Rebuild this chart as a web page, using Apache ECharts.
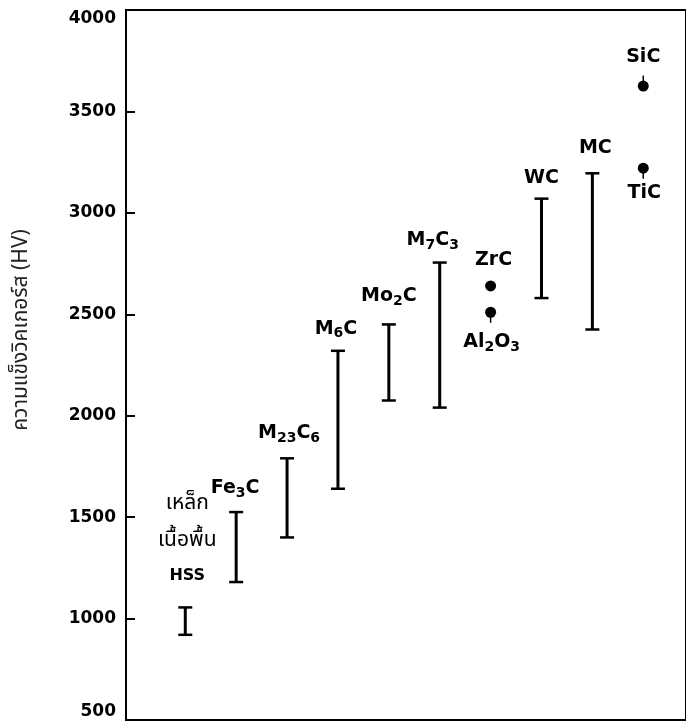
<!DOCTYPE html>
<html>
<head>
<meta charset="utf-8">
<script src="https://cdn.jsdelivr.net/npm/echarts@6/dist/echarts.min.js"></script>
<style>
  html, body { margin: 0; padding: 0; background: #fff; }
  #chart { width: 686px; height: 724px; }
</style>
</head>
<body>
<div id="chart"></div>
<script>
// Columns along the horizontal direction (one slot per material group)
const columns = ['HSS', 'Fe3C', 'M23C6', 'M6C', 'Mo2C', 'M7C3', 'ZrC/Al2O3', 'WC', 'MC', 'TiC/SiC'];

// Hardness ranges (HV) shown as I-bars
const rangeNames   = ['HSS', 'Fe3C', 'M23C6', 'M6C', 'Mo2C', 'M7C3', 'WC', 'MC'];
const rangeColumns = ['HSS', 'Fe3C', 'M23C6', 'M6C', 'Mo2C', 'M7C3', 'WC', 'MC'];
const rangeLow     = [920, 1180, 1400, 1640, 2075, 2040, 2580, 2425];
const rangeHigh    = [1055, 1525, 1790, 2320, 2450, 2755, 3070, 3195];

// Single hardness values (HV) shown as dots
const pointNames   = ['ZrC', 'Al2O3', 'TiC', 'SiC'];
const pointColumns = ['ZrC/Al2O3', 'ZrC/Al2O3', 'TiC/SiC', 'TiC/SiC'];
const pointValues  = [2640, 2510, 3220, 3625];

// Vertical axis
const yMin = 500, yMax = 4000, yStep = 500;
const yTitle = 'ความแข็งวิคเกอร์ส (HV)';
const matrixLabel = ['เหล็ก', 'เนื้อพื้น', 'HSS'];

// ---- label placement relative to the mark (pixels) ----
const labelOffset = {
  'HSS':   { dx: 2,  dy: -17 },
  'Fe3C':  { dx: -1, dy: -24 },
  'M23C6': { dx: 2,  dy: -25 },
  'M6C':   { dx: -2, dy: -22 },
  'Mo2C':  { dx: 0,  dy: -28 },
  'M7C3':  { dx: -7, dy: -22 },
  'WC':    { dx: 0,  dy: -21 },
  'MC':    { dx: 3,  dy: -25 },
  'ZrC':   { dx: 3,  dy: -26 },
  'Al2O3': { dx: 1,  dy: 30 },
  'TiC':   { dx: 1,  dy: 25 },
  'SiC':   { dx: 0,  dy: -29 }
};
// small pin stem drawn on some dots: +1 below, -1 above
const stemDir = { 'Al2O3': 1, 'TiC': 1, 'SiC': -1 };

const FONT = '"DejaVu Sans", sans-serif';
const THAI = '"Noto Sans Thai", "Noto Sans", "DejaVu Sans", sans-serif';

const rich = {
  n: { fontFamily: FONT, fontWeight: 'bold', fontSize: 19, lineHeight: 24, color: '#000' },
  s: { fontFamily: FONT, fontWeight: 'bold', fontSize: 14, lineHeight: 14, verticalAlign: 'bottom', color: '#000' },
  t: { fontFamily: THAI, fontSize: 21, lineHeight: 37, color: '#000' },
  h: { fontFamily: FONT, fontWeight: 'bold', fontSize: 16, lineHeight: 30, color: '#000' }
};

// Turn "M23C6" into rich text with subscript digits
function chemical(name) {
  return name.split(/(\d+)/).filter(p => p.length)
    .map(p => /^\d+$/.test(p) ? '{s|' + p + '}' : '{n|' + p + '}').join('');
}
function labelText(name) {
  if (name === 'HSS') {
    return '{t|' + matrixLabel[0] + '}\n{t|' + matrixLabel[1] + '}\n{h|' + matrixLabel[2] + '}';
  }
  return chemical(name);
}

const rangeData = rangeNames.map((n, i) => [columns.indexOf(rangeColumns[i]), rangeLow[i], rangeHigh[i]]);
const pointData = pointNames.map((n, i) => [columns.indexOf(pointColumns[i]), pointValues[i]]);

const chart = echarts.init(document.getElementById('chart'), null, { renderer: 'canvas' });

chart.setOption({
  animation: false,
  backgroundColor: '#fff',
  grid: {
    left: 126, right: -2, top: 10, bottom: 4,
    show: true, borderColor: '#000', borderWidth: 2, backgroundColor: 'transparent'
  },
  xAxis: {
    type: 'value', min: -1.165, max: 9.84,
    show: false
  },
  yAxis: {
    type: 'value', min: yMin, max: yMax, interval: yStep,
    axisLine: { show: true, onZero: false, lineStyle: { color: '#000', width: 2 } },
    axisTick: { show: true, inside: true, length: 9, lineStyle: { color: '#000', width: 2 } },
    splitLine: { show: false },
    axisLabel: {
      margin: 10, color: '#000', fontFamily: FONT, fontWeight: 'bold', fontSize: 17,
      formatter: v => String(v),
      verticalAlignMaxLabel: 'top', verticalAlignMinLabel: 'bottom'
    }
  },
  graphic: [{
    type: 'text',
    x: 23, y: 330,
    rotation: Math.PI / 2,
    style: {
      text: yTitle, fill: '#222', font: '21px ' + THAI,
      align: 'center', verticalAlign: 'middle'
    }
  }],
  series: [
    {
      type: 'custom',
      name: 'ranges',
      data: rangeData,
      clip: false,
      renderItem: function (params, api) {
        const name = rangeNames[params.dataIndex];
        const x = api.value(0);
        const top = api.coord([x, api.value(2)]);
        const bot = api.coord([x, api.value(1)]);
        const cap = 7;
        const off = labelOffset[name];
        return {
          type: 'group',
          children: [
            { type: 'line', shape: { x1: top[0], y1: top[1], x2: bot[0], y2: bot[1] },
              style: { stroke: '#000', lineWidth: 3 } },
            { type: 'line', shape: { x1: top[0] - cap, y1: top[1], x2: top[0] + cap, y2: top[1] },
              style: { stroke: '#000', lineWidth: 2.5 } },
            { type: 'line', shape: { x1: bot[0] - cap, y1: bot[1], x2: bot[0] + cap, y2: bot[1] },
              style: { stroke: '#000', lineWidth: 2.5 } },
            { type: 'text', x: top[0] + off.dx, y: top[1] + off.dy,
              style: { text: labelText(name), rich: rich, align: 'center',
                       verticalAlign: name === 'HSS' ? 'bottom' : 'middle' } }
          ]
        };
      }
    },
    {
      type: 'custom',
      name: 'points',
      data: pointData,
      clip: false,
      renderItem: function (params, api) {
        const name = pointNames[params.dataIndex];
        const p = api.coord([api.value(0), api.value(1)]);
        const off = labelOffset[name];
        const r = 5.5;
        const children = [
          { type: 'circle', shape: { cx: p[0], cy: p[1], r: r }, style: { fill: '#000' } }
        ];
        const d = stemDir[name];
        if (d) {
          children.push({ type: 'line',
            shape: { x1: p[0], y1: p[1], x2: p[0], y2: p[1] + d * (r + 5) },
            style: { stroke: '#000', lineWidth: 1.5 } });
        }
        children.push({ type: 'text', x: p[0] + off.dx, y: p[1] + off.dy,
          style: { text: labelText(name), rich: rich, align: 'center', verticalAlign: 'middle' } });
        return { type: 'group', children: children };
      }
    }
  ]
});
</script>
</body>
</html>
